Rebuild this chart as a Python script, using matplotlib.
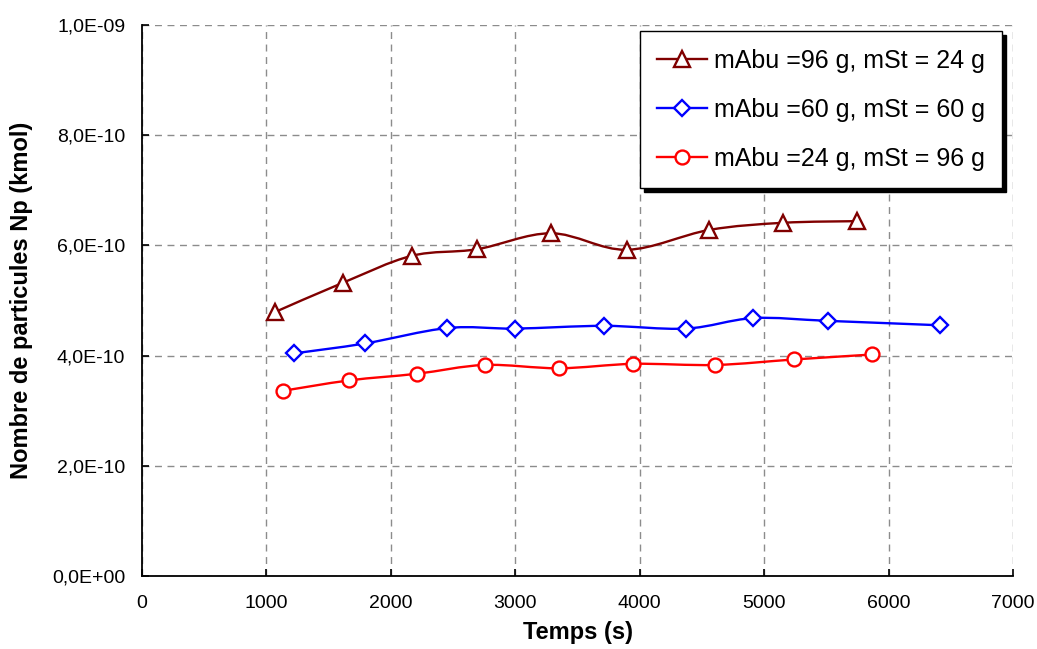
import numpy as np
import matplotlib
matplotlib.use("Agg")
import matplotlib.pyplot as plt
from matplotlib.path import Path
from matplotlib.patches import PathPatch
from matplotlib.lines import Line2D
from matplotlib.ticker import FuncFormatter, MultipleLocator

plt.rcParams['font.family'] = ['Liberation Sans', 'DejaVu Sans']

# Data (time in s, Np in 1e-10 kmol)
t_96_24 = [1069, 1613, 2167, 2692, 3289, 3895, 4557, 5151, 5749]
np_96_24 = [4.79, 5.32, 5.81, 5.93, 6.22, 5.92, 6.28, 6.41, 6.44]

t_60_60 = [1222, 1792, 2454, 2998, 3713, 4372, 4913, 5516, 6413]
np_60_60 = [4.04, 4.22, 4.50, 4.49, 4.54, 4.49, 4.68, 4.63, 4.55]

t_24_96 = [1131, 1666, 2208, 2754, 3351, 3949, 4608, 5243, 5870]
np_24_96 = [3.36, 3.55, 3.67, 3.83, 3.77, 3.85, 3.83, 3.93, 4.02]

labels = ["mAbu =96 g, mSt = 24 g",
          "mAbu =60 g, mSt = 60 g",
          "mAbu =24 g, mSt = 96 g"]
scale = 1e-10


def smooth_path(x, y):
    # Catmull-Rom style bezier through the points (like Excel "smoothed line")
    pts = np.column_stack([x, y])
    n = len(pts)
    verts = [pts[0]]
    codes = [Path.MOVETO]
    for i in range(n - 1):
        p0 = pts[i - 1] if i > 0 else pts[i]
        p1 = pts[i]
        p2 = pts[i + 1]
        p3 = pts[i + 2] if i + 2 < n else p2
        verts += [p1 + (p2 - p0) / 6, p2 - (p3 - p1) / 6, p2]
        codes += [Path.CURVE4] * 3
    return Path(verts, codes)


fig = plt.figure(figsize=(10.37, 6.49), dpi=100)
ax = fig.add_axes([0.1369, 0.1125, 0.84, 0.849])

series = [
    (t_96_24, np_96_24, "#800000", "^", 11),
    (t_60_60, np_60_60, "#0000FF", "D", 8),
    (t_24_96, np_24_96, "#FF0000", "o", 10),
]

handles = []
for (t, v, col, mk, ms), lab in zip(series, labels):
    y = np.array(v) * scale
    ax.add_patch(PathPatch(smooth_path(np.array(t, float), y), fill=False,
                           edgecolor=col, lw=1.7, zorder=3))
    ax.plot(t, y, linestyle='none', marker=mk, ms=ms, mfc='white',
            mec=col, mew=1.7, zorder=4)
    handles.append(Line2D([], [], color=col, lw=1.7, marker=mk, ms=ms,
                          mfc='white', mec=col, mew=1.7))

ax.set_xlim(0, 7000)
ax.set_ylim(0, 1e-9)
ax.xaxis.set_major_locator(MultipleLocator(1000))
ax.yaxis.set_major_locator(MultipleLocator(2e-10))
ax.yaxis.set_major_formatter(
    FuncFormatter(lambda v, p: f"{v:.1E}".replace('.', ',')))

ax.grid(True, color='#8c8c8c', linestyle=(0, (5, 4)), linewidth=1.0)
ax.set_axisbelow(True)

for side in ['top', 'right']:
    ax.spines[side].set_visible(False)
for side in ['left', 'bottom']:
    ax.spines[side].set_linewidth(1.3)

ax.tick_params(direction='in', length=5, width=1.2, labelsize=14)
ax.tick_params(axis='y', pad=12)
ax.tick_params(axis='x', pad=14)

ax.set_xlabel("Temps (s)", fontsize=17, fontweight='bold', va='center')
ax.xaxis.set_label_coords(0.5, -0.1034)
ax.set_ylabel("Nombre de particules Np (kmol)", fontsize=17,
              fontweight='bold', va='center')
ax.yaxis.set_label_coords(-0.1378, 0.5)

leg = ax.legend(handles, labels, loc='upper right',
                bbox_to_anchor=(0.9874, 0.989), borderaxespad=0,
                fontsize=18, frameon=True, fancybox=False, framealpha=1,
                edgecolor='black', borderpad=0.7, handletextpad=0.25,
                handlelength=2.0, labelspacing=1.0,
                shadow={'ox': 3, 'oy': -3, 'color': 'black', 'alpha': 1})
leg.get_frame().set_linewidth(1.0)

fig.savefig("out.png", dpi=100)
